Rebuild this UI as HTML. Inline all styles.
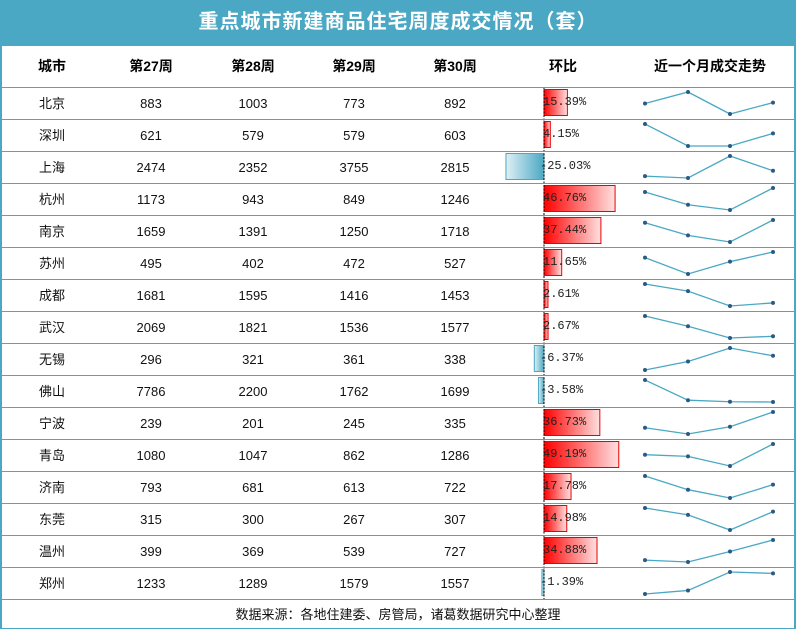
<!DOCTYPE html>
<html><head><meta charset="utf-8"><style>
body{margin:0;width:796px;height:630px;overflow:hidden;background:#fff;font-family:"Liberation Sans","Noto Sans CJK SC",sans-serif;position:relative}
#title{position:absolute;left:0;top:0;width:796px;height:46px;background:#4aa8c4;color:#fff;font-size:20px;font-weight:bold;text-align:center;line-height:44px;letter-spacing:1px}
#frame{position:absolute;left:0;top:46px;height:583px;border-left:2px solid #4aa8c4;border-right:2px solid #4aa8c4;border-bottom:1px solid #4aa8c4;box-sizing:border-box;width:796px}
.row{position:absolute;left:0;width:796px;height:32px;border-top:1px solid #4aa8c4;box-sizing:border-box;font-size:13px;color:#111}
.row span{position:absolute;top:0;line-height:31px;transform:translateX(-50%);white-space:nowrap}
.hd{position:absolute;left:0;top:46px;width:796px;height:41px;font-weight:bold;font-size:14px;color:#000}
.hd span{position:absolute;top:0;line-height:41px;transform:translateX(-50%);white-space:nowrap}
#foot{position:absolute;left:0;top:599px;width:796px;height:31px;border-top:1px solid #4aa8c4;text-align:center;line-height:30px;font-size:13px;color:#111}
svg{position:absolute;left:0;top:0}
.pct{position:absolute;font-family:"Liberation Mono","DejaVu Sans Mono",monospace;font-size:12px;line-height:31px;color:#222;white-space:nowrap}
</style></head><body>
<div id="title">重点城市新建商品住宅周度成交情况（套）</div>
<div id="frame"></div>
<div class="hd"><span style="left:52px">城市</span><span style="left:151px">第27周</span><span style="left:253px">第28周</span><span style="left:354px">第29周</span><span style="left:455px">第30周</span><span style="left:563px">环比</span><span style="left:710px">近一个月成交走势</span></div>
<svg id="s" width="796" height="630"></svg>
<div class="row" style="top:87px"><span style="left:52px">北京</span><span style="left:151px">883</span><span style="left:253px">1003</span><span style="left:354px">773</span><span style="left:455px">892</span></div>
<div class="row" style="top:119px"><span style="left:52px">深圳</span><span style="left:151px">621</span><span style="left:253px">579</span><span style="left:354px">579</span><span style="left:455px">603</span></div>
<div class="row" style="top:151px"><span style="left:52px">上海</span><span style="left:151px">2474</span><span style="left:253px">2352</span><span style="left:354px">3755</span><span style="left:455px">2815</span></div>
<div class="row" style="top:183px"><span style="left:52px">杭州</span><span style="left:151px">1173</span><span style="left:253px">943</span><span style="left:354px">849</span><span style="left:455px">1246</span></div>
<div class="row" style="top:215px"><span style="left:52px">南京</span><span style="left:151px">1659</span><span style="left:253px">1391</span><span style="left:354px">1250</span><span style="left:455px">1718</span></div>
<div class="row" style="top:247px"><span style="left:52px">苏州</span><span style="left:151px">495</span><span style="left:253px">402</span><span style="left:354px">472</span><span style="left:455px">527</span></div>
<div class="row" style="top:279px"><span style="left:52px">成都</span><span style="left:151px">1681</span><span style="left:253px">1595</span><span style="left:354px">1416</span><span style="left:455px">1453</span></div>
<div class="row" style="top:311px"><span style="left:52px">武汉</span><span style="left:151px">2069</span><span style="left:253px">1821</span><span style="left:354px">1536</span><span style="left:455px">1577</span></div>
<div class="row" style="top:343px"><span style="left:52px">无锡</span><span style="left:151px">296</span><span style="left:253px">321</span><span style="left:354px">361</span><span style="left:455px">338</span></div>
<div class="row" style="top:375px"><span style="left:52px">佛山</span><span style="left:151px">7786</span><span style="left:253px">2200</span><span style="left:354px">1762</span><span style="left:455px">1699</span></div>
<div class="row" style="top:407px"><span style="left:52px">宁波</span><span style="left:151px">239</span><span style="left:253px">201</span><span style="left:354px">245</span><span style="left:455px">335</span></div>
<div class="row" style="top:439px"><span style="left:52px">青岛</span><span style="left:151px">1080</span><span style="left:253px">1047</span><span style="left:354px">862</span><span style="left:455px">1286</span></div>
<div class="row" style="top:471px"><span style="left:52px">济南</span><span style="left:151px">793</span><span style="left:253px">681</span><span style="left:354px">613</span><span style="left:455px">722</span></div>
<div class="row" style="top:503px"><span style="left:52px">东莞</span><span style="left:151px">315</span><span style="left:253px">300</span><span style="left:354px">267</span><span style="left:455px">307</span></div>
<div class="row" style="top:535px"><span style="left:52px">温州</span><span style="left:151px">399</span><span style="left:253px">369</span><span style="left:354px">539</span><span style="left:455px">727</span></div>
<div class="row" style="top:567px"><span style="left:52px">郑州</span><span style="left:151px">1233</span><span style="left:253px">1289</span><span style="left:354px">1579</span><span style="left:455px">1557</span></div>
<div class="pct" style="left:543px;top:87px">15.39%</div>
<div class="pct" style="left:543px;top:119px">4.15%</div>
<div class="pct" style="left:540px;top:151px">-25.03%</div>
<div class="pct" style="left:543px;top:183px">46.76%</div>
<div class="pct" style="left:543px;top:215px">37.44%</div>
<div class="pct" style="left:543px;top:247px">11.65%</div>
<div class="pct" style="left:543px;top:279px">2.61%</div>
<div class="pct" style="left:543px;top:311px">2.67%</div>
<div class="pct" style="left:540px;top:343px">-6.37%</div>
<div class="pct" style="left:540px;top:375px">-3.58%</div>
<div class="pct" style="left:543px;top:407px">36.73%</div>
<div class="pct" style="left:543px;top:439px">49.19%</div>
<div class="pct" style="left:543px;top:471px">17.78%</div>
<div class="pct" style="left:543px;top:503px">14.98%</div>
<div class="pct" style="left:543px;top:535px">34.88%</div>
<div class="pct" style="left:540px;top:567px">-1.39%</div>
<div id="foot">数据来源：各地住建委、房管局，诸葛数据研究中心整理</div>
<script>
var d=[[883,1003,773,892,15.39],[621,579,579,603,4.15],[2474,2352,3755,2815,-25.03],[1173,943,849,1246,46.76],[1659,1391,1250,1718,37.44],[495,402,472,527,11.65],[1681,1595,1416,1453,2.61],[2069,1821,1536,1577,2.67],[296,321,361,338,-6.37],[7786,2200,1762,1699,-3.58],[239,201,245,335,36.73],[1080,1047,862,1286,49.19],[793,681,613,722,17.78],[315,300,267,307,14.98],[399,369,539,727,34.88],[1233,1289,1579,1557,-1.39]];
var h='<defs><linearGradient id="r"><stop offset="0" stop-color="#ff0000"/><stop offset="1" stop-color="#ffe0e0"/></linearGradient><linearGradient id="b"><stop offset="0" stop-color="#dff0f5"/><stop offset="1" stop-color="#4aa8c4"/></linearGradient></defs>';
var X=[645,688,730,773],z=544,k=1.52;
d.forEach(function(r,i){var t=87+32*i;var p=r[4];
 if(p>=0)h+='<rect x="'+z+'" y="'+(t+2.5)+'" width="'+(p*k)+'" height="26" fill="url(#r)" stroke="#e00" stroke-width="1"/>';
 else h+='<rect x="'+(z+p*k)+'" y="'+(t+2.5)+'" width="'+(-p*k)+'" height="26" fill="url(#b)" stroke="#4aa8c4" stroke-width="1"/>';
 var v=r.slice(0,4),mn=Math.min.apply(0,v),mx=Math.max.apply(0,v);
 var pts=v.map(function(a,j){return [X[j],t+27-(a-mn)/(mx-mn)*22]});
 h+='<polyline fill="none" stroke="#4aa8c4" stroke-width="1.3" points="'+pts.map(function(q){return q.join(',')}).join(' ')+'"/>';
 pts.forEach(function(q){h+='<circle cx="'+q[0]+'" cy="'+q[1]+'" r="2" fill="#2a5a85"/>'});
});
h+='<line x1="544" y1="87" x2="544" y2="599" stroke="#000" stroke-dasharray="2,1.5" stroke-width="1"/>';
document.getElementById('s').innerHTML=h;
</script>
</body></html>
